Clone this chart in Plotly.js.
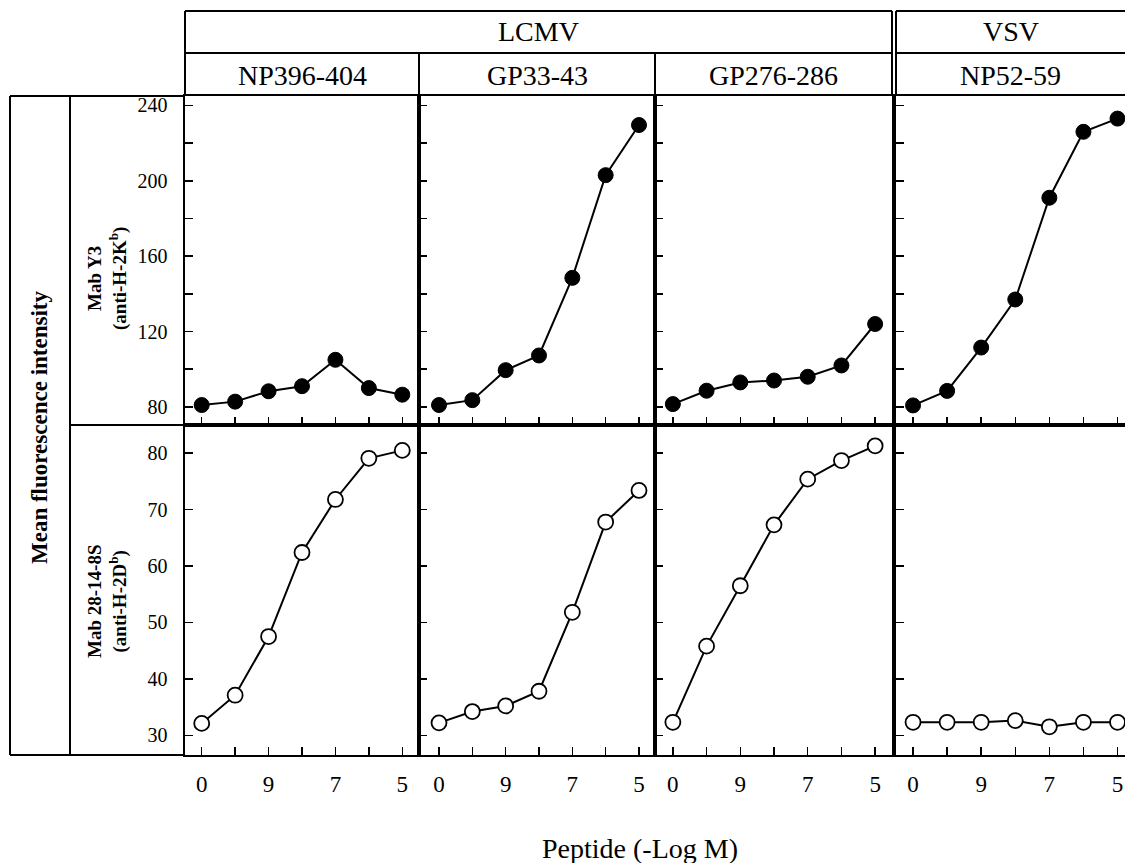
<!DOCTYPE html>
<html>
<head>
<meta charset="utf-8">
<script src="https://cdn.plot.ly/plotly-3.0.1.min.js"></script>
<style>html,body{margin:0;padding:0;background:#fff;}#chart{width:1125px;height:863px;}</style>
</head>
<body>
<div id="chart"></div>
<script>
// ---- data ----
var doseIndex = [0, 1, 2, 3, 4, 5, 6];           // peptide doses: 0 (none), 10, 9, 8, 7, 6, 5 (-log M)
var doseTickText = ["0", " ", "9", " ", "7", " ", "5"];
var groupNames = ["LCMV", "VSV"];
var peptideNames = ["NP396-404", "GP33-43", "GP276-286", "NP52-59"];
var rowLabels = ["Mab Y3<br>(anti-H-2K<sup>b</sup>)", "Mab 28-14-8S<br>(anti-H-2D<sup>b</sup>)"];

// Mab Y3 (anti-H-2Kb), filled circles
var y3_NP396 = [81, 82.8, 88.3, 91, 105, 90, 86.5];
var y3_GP33  = [81, 83.6, 99.5, 107.3, 148.5, 203, 229.6];
var y3_GP276 = [81.5, 88.6, 93, 94, 96, 102, 124];
var y3_NP52  = [80.8, 88.5, 111.5, 137, 191, 226, 233];

// Mab 28-14-8S (anti-H-2Db), open circles
var m28_NP396 = [32.1, 37.1, 47.5, 62.4, 71.8, 79.1, 80.5];
var m28_GP33  = [32.2, 34.2, 35.2, 37.8, 51.8, 67.8, 73.4];
var m28_GP276 = [32.3, 45.8, 56.5, 67.3, 75.4, 78.7, 81.3];
var m28_NP52  = [32.3, 32.3, 32.3, 32.6, 31.5, 32.3, 32.3];

var topTickVals = [80, 100, 120, 140, 160, 180, 200, 220, 240];
var topTickText = ["80", " ", "120", " ", "160", " ", "200", " ", "240"];
var botTickVals = [30, 40, 50, 60, 70, 80];
var botTickText = ["30", "40", "50", "60", "70", "80"];

// ---- layout helpers ----
var W = 1125, H = 863;
function px(x) { return x / W; }
function py(y) { return 1 - y / H; }
var FONT = "Liberation Serif";

var colEdges = [[185, 419], [419, 655], [655, 892], [896, 1125]];
var rowEdges = [[96, 425], [425, 755]];
var xRanges = [[-0.5, 6.5], [-0.6, 6.48], [-0.53, 6.5], [-0.5, 6.22]];
var topRange = [70.4, 245];
var botRange = [26.5, 85];

var topData = [y3_NP396, y3_GP33, y3_GP276, y3_NP52];
var botData = [m28_NP396, m28_GP33, m28_GP276, m28_NP52];

var traces = [];
var layout = {
  width: W, height: H,
  margin: {l: 0, r: 0, t: 0, b: 0},
  paper_bgcolor: "#fff", plot_bgcolor: "#fff",
  showlegend: false,
  font: {family: FONT, color: "#000", size: 20},
  shapes: [], annotations: []
};

for (var r = 0; r < 2; r++) {
  for (var c = 0; c < 4; c++) {
    var k = r * 4 + c + 1;
    var xa = "xaxis" + (k === 1 ? "" : k), ya = "yaxis" + (k === 1 ? "" : k);
    var xid = "x" + (k === 1 ? "" : k), yid = "y" + (k === 1 ? "" : k);
    var isTop = r === 0;
    traces.push({
      x: doseIndex, y: isTop ? topData[c] : botData[c],
      xaxis: xid, yaxis: yid, type: "scatter", mode: "lines+markers",
      line: {color: "#000", width: 2},
      marker: isTop ? {size: 15, color: "#000", line: {color: "#000", width: 1}}
                    : {size: 15, color: "#fff", line: {color: "#000", width: 1.8}},
      cliponaxis: false, hoverinfo: "skip"
    });
    layout[xa] = {
      domain: [px(colEdges[c][0]), px(colEdges[c][1])],
      range: xRanges[c], anchor: yid, automargin: false,
      showgrid: false, zeroline: false,
      showline: true, linecolor: "#000", linewidth: 1.6, mirror: true,
      ticks: "inside", ticklen: 8, tickwidth: 1.5, tickcolor: "#000",
      tickmode: "array", tickvals: doseIndex, ticktext: doseTickText,
      showticklabels: !isTop, ticklabelstandoff: 8,
      tickfont: {family: FONT, size: 23, color: "#000"}
    };
    layout[ya] = {
      domain: [py(rowEdges[r][1]), py(rowEdges[r][0])],
      range: isTop ? topRange : botRange, anchor: xid, automargin: false,
      showgrid: false, zeroline: false,
      showline: true, linecolor: "#000", linewidth: 1.6, mirror: c < 3,
      ticks: "inside", ticklen: 8, tickwidth: 1.5, tickcolor: "#000",
      tickmode: "array", tickvals: isTop ? topTickVals : botTickVals,
      ticktext: isTop ? topTickText : botTickText,
      showticklabels: c === 0, ticklabelstandoff: 12,
      tickfont: {family: FONT, size: 20, color: "#000"}
    };
  }
}

function hline(y, x0, x1) {
  layout.shapes.push({type: "line", xref: "paper", yref: "paper", x0: px(x0), x1: px(x1), y0: py(y), y1: py(y), line: {color: "#000", width: 2}});
}
function vline(x, y0, y1) {
  layout.shapes.push({type: "line", xref: "paper", yref: "paper", x0: px(x), x1: px(x), y0: py(y0), y1: py(y1), line: {color: "#000", width: 2}});
}
// header boxes
hline(11, 185, 892); hline(11, 896, 1125);
hline(53, 185, 892); hline(53, 896, 1125);
vline(185, 11, 96); vline(419, 53, 96); vline(655, 53, 96);
vline(892, 11, 96); vline(896, 11, 96);
// left label boxes
hline(96, 10, 185); hline(755, 10, 185);
vline(10, 96, 755); vline(70, 96, 755);
hline(425, 70, 185);

function ann(text, x, y, size, opts) {
  var a = {text: text, xref: "paper", yref: "paper", x: px(x), y: py(y),
    xanchor: "center", yanchor: "middle", showarrow: false,
    font: {family: FONT, size: size, color: "#000"}};
  for (var key in opts) a[key] = opts[key];
  layout.annotations.push(a);
}
ann(groupNames[0], (185 + 892) / 2, 32, 28);
ann(groupNames[1], (896 + 1125) / 2, 32, 28);
for (var c2 = 0; c2 < 4; c2++) {
  ann(peptideNames[c2], (colEdges[c2][0] + colEdges[c2][1]) / 2, 75, 28);
}
ann("<b>Mean fluorescence intensity</b>", 39, 428, 23, {textangle: -90});
ann("<b>" + rowLabels[0] + "</b>", 107, 278, 19, {textangle: -90});
ann("<b>" + rowLabels[1] + "</b>", 107, 601, 19, {textangle: -90});
ann("Peptide (-Log M)", 640, 848, 28);

Plotly.newPlot("chart", traces, layout, {staticPlot: true, displayModeBar: false});
</script>
</body>
</html>
